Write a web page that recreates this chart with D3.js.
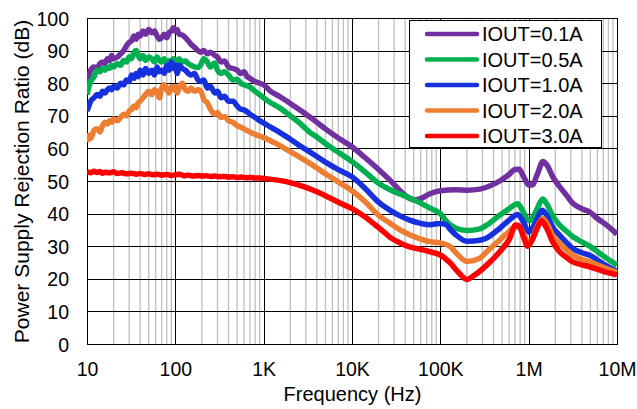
<!DOCTYPE html>
<html>
<head>
<meta charset="utf-8">
<script src="https://cdn.jsdelivr.net/npm/d3@7/dist/d3.min.js"></script>
<style>
  html, body { margin: 0; padding: 0; background: #fff; }
  svg { display: block; font-family: "Liberation Sans", Arial, sans-serif; }
</style>
</head>
<body>
<svg id="chart" width="637" height="409"></svg>
<script>
// ---- data ----
const xTickValues = [10, 100, 1e3, 1e4, 1e5, 1e6, 1e7];
const xTickLabels = ["10", "100", "1K", "10K", "100K", "1M", "10M"];
const yTickValues = [0, 10, 20, 30, 40, 50, 60, 70, 80, 90, 100];
const seriesNames = ["IOUT=0.1A", "IOUT=0.5A", "IOUT=1.0A", "IOUT=2.0A", "IOUT=3.0A"];
const seriesColors = ["#7030A0", "#00B050", "#1530DC", "#ED7D31", "#FF0000"];

const iout01 = [[10,80],[10.5,82.5],[11,84],[12,85],[13,84.5],[14,86],[15,86.5],[16,86],[17,87.5],[18,87],[19,88.5],[20,87.5],[22,88],[24,89],[26,90],[28,91.5],[30,92.5],[32,93],[34,94.5],[36,93.5],[38,95],[40,94.5],[43,96],[46,95],[50,96.5],[54,95.5],[58,96],[62,94.5],[66,93.5],[70,94],[75,95],[80,94],[85,95.5],[90,96],[95,97],[100,96],[105,96.5],[110,95],[120,94.8],[130,94],[140,93],[150,92],[165,91],[180,90],[195,89.5],[210,90],[230,89],[250,89.5],[280,88.5],[300,88],[330,86.5],[360,86.8],[400,85],[450,84.5],[500,84],[550,83],[600,83.5],[650,82],[700,81.5],[800,80.5],[900,80],[1000,79.5],[1200,77.5],[1500,76],[2000,73.8],[2500,72],[3300,69.7],[4000,68],[5000,66],[7000,63.2],[10000,60.5],[14000,57.2],[20000,53.5],[27000,50.2],[35000,47],[45000,44.6],[51000,44.2],[60000,44.6],[75000,46],[100000,47],[150000,47.3],[200000,47.2],[280000,47.5],[350000,48.3],[470000,50],[600000,52],[700000,53.5],[780000,53.6],[870000,51.5],[1000000,48.8],[1100000,48.8],[1250000,52],[1450000,56],[1600000,55],[1900000,51],[2240000,48.3],[2700000,45.5],[3150000,43.2],[4000000,41.5],[4900000,40.5],[6000000,38.5],[8000000,36],[10000000,33.7]];

const iout05 = [[10,76.5],[10.5,79],[11,80.5],[12,82],[13,84],[14,83.5],[15,84.5],[16,84],[17,85],[18,84.5],[19,85.5],[20,85],[22,86],[24,85.5],[26,87],[28,86.5],[30,88],[32,87.5],[34,89.5],[36,90],[38,88.5],[40,87.5],[43,88.5],[46,87],[50,88],[54,87.5],[58,86.5],[62,88],[66,87],[70,86.5],[75,87.5],[80,86],[85,87],[90,86],[95,87.5],[100,86.5],[110,87.5],[120,86.5],[130,86.8],[140,86],[150,85.5],[165,85],[180,84.8],[195,85.8],[210,87.5],[230,86.5],[250,85],[280,86.2],[300,84],[330,83],[360,83.5],[400,82.5],[450,81],[500,81.2],[550,80],[600,79.5],[700,78.8],[800,77.5],[900,76.5],[1000,75.5],[1200,74],[1500,72.5],[2000,70],[2500,68],[3300,65],[4000,63.5],[5000,61.5],[7000,58.8],[10000,56],[14000,52.8],[20000,49.3],[27000,47.3],[35000,46],[45000,44.8],[60000,43.2],[76000,41.7],[90000,40.8],[100000,40],[118000,37.5],[150000,35.5],[200000,34.8],[280000,35.3],[335000,36.5],[470000,39.5],[600000,41.5],[751000,43],[850000,41],[1000000,37.8],[1100000,38.5],[1250000,41.5],[1440000,44.5],[1600000,43],[1900000,39],[2240000,36.5],[2700000,34.5],[3150000,33],[4000000,31.3],[4900000,30],[7000000,27],[10000000,24.2]];

const iout10 = [[10,71.5],[10.5,73],[11,74.5],[12,75.5],[13,76.5],[14,76],[15,77.5],[16,77],[17,78],[18,78.5],[19,78],[20,79],[22,78.5],[24,80],[26,79.5],[28,81],[30,80.5],[32,82.5],[34,81.5],[36,83],[38,82],[40,84],[43,82.5],[46,84.5],[50,83],[54,84],[58,82.5],[62,85],[66,83.5],[70,84],[75,83],[80,85.5],[85,84],[90,86.5],[95,84.5],[100,85.5],[105,83],[110,85.5],[120,84.5],[130,84],[140,83],[150,82.5],[165,83],[180,81],[195,80.5],[210,81],[230,78.5],[250,79],[280,77],[300,77.5],[330,75.5],[360,76],[400,74.5],[450,74.5],[500,73],[550,72],[600,71.8],[700,70.5],[800,69.5],[900,68.5],[1000,67.8],[1200,66.5],[1500,65],[2000,62.8],[2500,61],[3300,59],[4000,57.5],[5000,55.8],[7000,53.5],[10000,51.3],[14000,47.8],[20000,43.5],[27000,41],[35000,39.3],[45000,38],[60000,37],[76000,36.6],[100000,37],[118000,36.5],[128000,35.3],[150000,33.5],[200000,31.5],[280000,31.8],[335000,32.5],[470000,35.5],[600000,38],[751000,39.7],[870000,37.5],[1000000,34.3],[1100000,35.5],[1250000,38.5],[1420000,41],[1600000,39.5],[1900000,35.5],[2240000,33.4],[2700000,31],[3150000,29.3],[4000000,28],[4900000,27.2],[7000000,24.6],[10000000,22.2]];

const iout20 = [[10,62],[10.5,64],[11,63],[12,65.5],[13,66],[14,65],[15,67],[16,68],[17,67.5],[18,68.5],[19,68],[20,69],[22,68.5],[24,69.5],[26,70.5],[28,70],[30,71.5],[32,72],[34,73],[36,72.5],[38,74],[40,74.5],[43,75.5],[46,76.5],[50,77.5],[54,76.5],[58,78],[62,77.5],[66,75.5],[70,78.5],[75,79.5],[80,78],[85,77],[90,79],[95,78],[100,79],[105,77],[110,78.5],[120,80],[130,78],[140,77.5],[150,78.5],[165,77.5],[180,78],[195,77.5],[210,75],[230,74],[250,72],[280,70.5],[300,71],[330,69.5],[360,69.8],[400,68.5],[450,68],[500,67],[550,66.5],[600,66],[700,65],[800,64.3],[900,63.8],[1000,63.3],[1200,62.3],[1500,61],[2000,59],[2500,57.5],[3300,55.5],[4000,54],[5000,52.2],[7000,49.7],[10000,47],[14000,43.7],[20000,39.5],[27000,37],[35000,35],[45000,33.5],[60000,32.2],[76000,31.4],[100000,31],[128000,30],[150000,28],[200000,25.3],[280000,26.3],[335000,28.3],[470000,31.9],[600000,34.5],[713000,36],[800000,35.5],[900000,33],[1000000,31.4],[1100000,32.5],[1250000,36],[1440000,38.5],[1600000,37],[1900000,33],[2240000,30.9],[2700000,28.8],[3150000,27.3],[4000000,26],[4900000,25.2],[7000000,23.5],[10000000,21.9]];

const iout30 = [[10,52.8],[11,52.5],[12,53],[13,52.6],[14,52.9],[15,52.4],[16,52.7],[18,52.5],[20,52.8],[22,52.3],[25,52.5],[28,52.2],[32,52.4],[36,52.1],[40,52.3],[45,52],[50,52.2],[56,51.9],[63,52.1],[70,51.8],[80,52],[90,51.7],[100,51.9],[112,52.1],[125,51.6],[140,51.8],[160,51.5],[180,51.7],[200,51.5],[225,51.6],[250,51.4],[280,51.5],[320,51.3],[360,51.4],[400,51.2],[450,51.3],[500,51.1],[560,51.2],[630,51],[710,51.1],[800,50.9],[900,50.9],[1000,50.8],[1500,50.2],[2000,49.5],[2900,48.2],[4000,46.7],[5000,45.5],[7000,43.5],[10000,41.5],[14000,39],[18000,36.7],[22000,34.8],[27000,32.7],[35000,31],[45000,29.8],[60000,29],[76000,28.3],[100000,27.3],[128000,25],[160000,22],[200000,19.8],[240000,21],[335000,24.2],[470000,28.3],[600000,32],[713000,36.5],[780000,36.2],[870000,33],[975000,30],[1100000,32],[1250000,35.5],[1400000,37.8],[1600000,35.5],[1900000,31],[2240000,28.3],[2700000,26.5],[3150000,25.2],[4000000,24.3],[4900000,23.7],[7000000,22.3],[10000000,21.2]];

const allSeries = [iout01, iout05, iout10, iout20, iout30];

// ---- layout ----
const svg = d3.select("#chart");
const plot = { left: 87, right: 617, top: 18, bottom: 344 };

const x = d3.scaleLog().domain([10, 1e7]).range([plot.left, plot.right]);
const y = d3.scaleLinear().domain([0, 100]).range([plot.bottom, plot.top]);

// minor vertical grid
const minorTicks = [];
for (let d = 10; d < 1e7; d *= 10) {
  for (let k = 2; k <= 9; k++) minorTicks.push(d * k);
}
svg.append("g").selectAll("line").data(minorTicks).join("line")
  .attr("x1", d => x(d)).attr("x2", d => x(d))
  .attr("y1", plot.top).attr("y2", plot.bottom)
  .attr("stroke", "#BFBFBF").attr("stroke-width", 1.3);

// major vertical grid
svg.append("g").selectAll("line").data(xTickValues).join("line")
  .attr("x1", d => Math.round(x(d)) + 0.5).attr("x2", d => Math.round(x(d)) + 0.5)
  .attr("y1", plot.top).attr("y2", plot.bottom)
  .attr("stroke", "#000").attr("stroke-width", 1);

// horizontal grid
svg.append("g").selectAll("line").data(yTickValues).join("line")
  .attr("x1", plot.left).attr("x2", plot.right)
  .attr("y1", d => Math.round(y(d)) + 0.5).attr("y2", d => Math.round(y(d)) + 0.5)
  .attr("stroke", "#000").attr("stroke-width", 1);

// border
svg.append("rect")
  .attr("x", plot.left + 0.5).attr("y", plot.top + 0.5)
  .attr("width", plot.right - plot.left).attr("height", plot.bottom - plot.top)
  .attr("fill", "none").attr("stroke", "#000").attr("stroke-width", 1);

// axes labels
const xAxis = d3.axisBottom(x).tickValues(xTickValues)
  .tickFormat((d, i) => xTickLabels[i]).tickSize(0).tickPadding(0);
const gx = svg.append("g").attr("transform", `translate(0,${plot.bottom})`).call(xAxis);
gx.select(".domain").remove();
gx.selectAll("text").attr("y", 32).attr("dy", 0)
  .style("font-size", "19.5px").style("font-family", "'Liberation Sans', Arial, sans-serif").attr("fill", "#000");

const yAxis = d3.axisLeft(y).tickValues(yTickValues).tickSize(0).tickPadding(0);
const gy = svg.append("g").attr("transform", `translate(${plot.left},0)`).call(yAxis);
gy.select(".domain").remove();
gy.selectAll("text").attr("x", -18).attr("dy", "0.36em")
  .style("font-size", "19.5px").style("font-family", "'Liberation Sans', Arial, sans-serif").attr("fill", "#000");

// series
const line = d3.line()
  .x(d => x(d[0])).y(d => y(d[1]))
  .curve(d3.curveMonotoneX);

svg.append("defs").append("clipPath").attr("id", "clip")
  .append("rect").attr("x", plot.left).attr("y", plot.top - 5)
  .attr("width", plot.right - plot.left + 1).attr("height", plot.bottom - plot.top + 10);

svg.append("g").attr("clip-path", "url(#clip)")
  .selectAll("path").data(allSeries).join("path")
  .attr("d", line)
  .attr("fill", "none")
  .attr("stroke", (d, i) => seriesColors[i])
  .attr("stroke-width", 5.5)
  .attr("stroke-linejoin", "round");

// axis titles
svg.append("text")
  .attr("x", (plot.left + plot.right) / 2 + 0.5).attr("y", 401)
  .attr("text-anchor", "middle")
  .style("font-size", "20px").text("Frequency (Hz)");

svg.append("text")
  .attr("transform", `translate(29,${(plot.top + plot.bottom) / 2 + 0.5}) rotate(-90)`)
  .attr("text-anchor", "middle")
  .style("font-size", "21px").text("Power Supply Rejection Ratio (dB)");

// legend
const lg = svg.append("g");
lg.append("rect")
  .attr("x", 409.5).attr("y", 20.5).attr("width", 192).attr("height", 127)
  .attr("fill", "#fff").attr("stroke", "#000").attr("stroke-width", 1);
const rows = lg.selectAll("g.row").data(seriesNames).join("g")
  .attr("class", "row")
  .attr("transform", (d, i) => `translate(0,${34 + i * 25.5})`);
rows.append("line")
  .attr("x1", 427).attr("x2", 477).attr("y1", 0).attr("y2", 0)
  .attr("stroke", (d, i) => seriesColors[i]).attr("stroke-width", 4.5)
  .attr("stroke-linecap", "round");
rows.append("text")
  .attr("x", 482).attr("y", 7)
  .style("font-size", "20px").text(d => d);
</script>
</body>
</html>
